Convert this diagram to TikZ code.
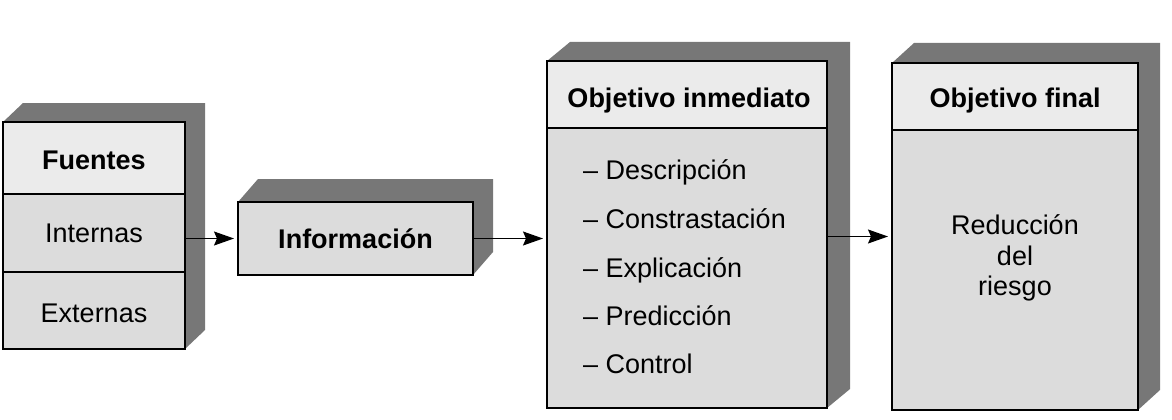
\documentclass[tikz,border=0pt]{standalone}
\usepackage{fontspec}
\setmainfont{Liberation Sans}
\usetikzlibrary{backgrounds,arrows.meta,calc}
\definecolor{shadegray}{HTML}{777777}
\definecolor{facelight}{HTML}{EBEBEB}
\definecolor{facemid}{HTML}{DCDCDC}
\tikzset{
  face/.style={draw=black, line width=1.3pt, inner sep=0pt, outer sep=0pt, anchor=north west},
  lbl/.style={font=\fontsize{27}{31}\selectfont, inner sep=0pt, anchor=base},
  ttl/.style={font=\fontsize{27}{31}\selectfont\bfseries, inner sep=0pt, anchor=base},
  item/.style={font=\fontsize{27}{31}\selectfont, inner sep=0pt, anchor=base west},
  conn/.style={-{Stealth[length=20pt,width=14pt,inset=3pt]}, line width=1.2pt, shorten >=4pt},
  divider/.style={line width=1.3pt}
}
\begin{document}
\begin{tikzpicture}[x=1pt,y=-1pt]
\useasboundingbox (0,0) rectangle (1172,420);
% front faces
\node[face, minimum width=182pt, minimum height=227pt] (f) at (3,122) {};
\node[face, minimum width=235pt, minimum height=73pt] (info) at (238,202) {};
\node[face, minimum width=280pt, minimum height=347pt] (obj) at (547,61) {};
\node[face, minimum width=246pt, minimum height=347pt] (fin) at (892,63) {};
% depth and fills
\begin{scope}[on background layer]
  \foreach \n/\dx/\dy in {f/20/-19, info/20/-23, obj/23/-19, fin/22/-20}{
    \fill[shadegray] (\n.north west) -- ++(\dx,\dy) -- ($(\n.north east)+(\dx,\dy)$)
      -- ($(\n.south east)+(\dx,\dy)$) -- (\n.south east) -- (\n.north east) -- cycle;
    \fill[facemid] (\n.north west) rectangle (\n.south east);
  }
  \fill[facelight] (f.north west) rectangle (f.east |- 0,194);
  \fill[facelight] (obj.north west) rectangle (obj.east |- 0,128);
  \fill[facelight] (fin.north west) rectangle (fin.east |- 0,130);
\end{scope}
% dividers
\draw[divider] (f.west |- 0,194) -- (f.east |- 0,194);
\draw[divider] (f.west |- 0,272) -- (f.east |- 0,272);
\draw[divider] (obj.west |- 0,128) -- (obj.east |- 0,128);
\draw[divider] (fin.west |- 0,130) -- (fin.east |- 0,130);
% texts
\node[ttl] (fuentes) at (94,169) {Fuentes};
\node[lbl] (internas) at (94,242) {Internas};
\node[lbl] (externas) at (94,322) {Externas};
\node[ttl] (infotxt) at (355.5,248) {Información};
\node[ttl] (objtitle) at (689,107) {Objetivo inmediato};
\node[item] (i1) at (583,179) {– Descripción};
\node[item] (i2) at (583,228) {– Constrastación};
\node[item] (i3) at (583,277) {– Explicación};
\node[item] (i4) at (583,325) {– Predicción};
\node[item] (i5) at (583,373) {– Control};
\node[ttl] (fintitle) at (1015,107) {Objetivo final};
\node[lbl] (r1) at (1015,234) {Reducción};
\node[lbl] (r2) at (1015,265) {del};
\node[lbl] (r3) at (1015,295) {riesgo};
% connectors
\draw[conn] (f.east |- info.west) -- (info.west);
\draw[conn] (info.east) -- (info.east -| obj.west);
\draw[conn] (obj.east |- fin.west) -- (fin.west);
\end{tikzpicture}
\end{document}
